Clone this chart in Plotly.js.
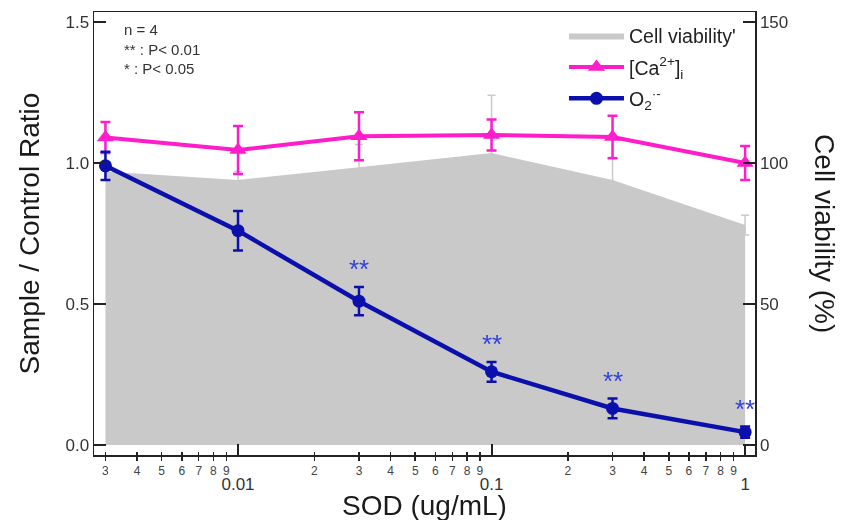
<!DOCTYPE html>
<html>
<head>
<meta charset="utf-8">
<script src="https://cdn.plot.ly/plotly-3.0.1.min.js"></script>
<style>html,body{margin:0;padding:0;background:#fff;}#chart{width:841px;height:520px;}</style>
</head>
<body>
<div id="chart"></div>
<script>
// SOD dose (ug/mL)
const doses = [0.003, 0.01, 0.03, 0.1, 0.3, 1];
// Cell viability (%), right axis
const viability = [97, 94, 98.5, 103.5, 94, 78];
const viabilityErr = [3, 3, 8, 20.5, 8, 3.5];
// [Ca2+]i sample/control ratio
const calcium = [1.09, 1.046, 1.095, 1.099, 1.092, 1.0];
const calciumErr = [0.055, 0.085, 0.085, 0.055, 0.075, 0.06];
// O2- sample/control ratio
const superoxide = [0.99, 0.76, 0.51, 0.26, 0.13, 0.046];
const superoxideErr = [0.05, 0.07, 0.05, 0.035, 0.035, 0.02];
const significance = ['', '', '**', '**', '**', '**'];

const majorTicks = [0.01, 0.1, 1];
const majorLabels = ['0.01', '0.1', '1'];
const minorTicks = [0.003,0.004,0.005,0.006,0.007,0.008,0.009,
                    0.02,0.03,0.04,0.05,0.06,0.07,0.08,0.09,
                    0.2,0.3,0.4,0.5,0.6,0.7,0.8,0.9];
const minorLabels = ['3','4','5','6','7','8','9','2','3','4','5','6','7','8','9','2','3','4','5','6','7','8','9'];
const ratioTicks = [0, 0.5, 1, 1.5];
const ratioLabels = ['0.0', '0.5', '1.0', '1.5'];
const viabilityTicks = [0, 50, 100, 150];

const FONT = 'Liberation Sans, Arial, sans-serif';
const PINK = '#ff1ccb';
const BLUE = '#0b10ad';
const GRAY = '#c9c9c9';
const AX = '#222';

const traces = [
  {
    x: doses, y: viability, xaxis: 'x', yaxis: 'y',
    type: 'scatter', mode: 'lines', name: "Cell viability'", legendgroup: 'a',
    line: {width: 0, color: GRAY}, fill: 'tozeroy', fillcolor: GRAY,
    error_y: {type: 'data', array: viabilityErr, visible: true, color: GRAY, thickness: 1.5, width: 4}
  },
  {
    x: doses, y: calcium, xaxis: 'x', yaxis: 'y2',
    type: 'scatter', mode: 'lines+markers', name: '[Ca<sup>2+</sup>]<sub>i</sub>', legendgroup: 'b',
    line: {width: 4, color: PINK},
    marker: {symbol: 'triangle-up', size: 15, color: PINK},
    error_y: {type: 'data', array: calciumErr, visible: true, color: PINK, thickness: 2.5, width: 5}
  },
  {
    x: doses, y: superoxide, xaxis: 'x', yaxis: 'y2',
    type: 'scatter', mode: 'lines+markers', name: 'O<sub>2</sub><sup>·-</sup>', legendgroup: 'c',
    line: {width: 4.5, color: BLUE},
    marker: {symbol: 'circle', size: 13, color: BLUE},
    error_y: {type: 'data', array: superoxideErr, visible: true, color: BLUE, thickness: 2.5, width: 5}
  },
  // carrier for the secondary (minor-label) x axis; draws nothing
  {
    x: doses, y: viability, xaxis: 'x2', yaxis: 'y',
    type: 'scatter', mode: 'markers', opacity: 0, showlegend: false, hoverinfo: 'skip',
    marker: {size: 1, color: 'rgba(0,0,0,0)'}
  }
];

const annotations = [];
doses.forEach((d, i) => {
  if (significance[i]) {
    annotations.push({
      x: Math.log10(d), y: superoxide[i] + superoxideErr[i], xref: 'x', yref: 'y2',
      text: significance[i], showarrow: false, yanchor: 'bottom', yshift: 1,
      font: {family: FONT, size: 26, color: '#3040dc'}
    });
  }
});
annotations.push({
  xref: 'paper', yref: 'paper', x: 0.042, y: 0.984, xanchor: 'left', yanchor: 'top', align: 'left',
  text: 'n = 4<br>** : P< 0.01<br>* : P< 0.05', showarrow: false,
  font: {family: FONT, size: 15, color: '#333'}
});
annotations.push({
  xref: 'paper', yref: 'paper', x: -0.097, y: 0.5, xanchor: 'center', yanchor: 'middle',
  text: 'Sample / Control Ratio', textangle: -90, showarrow: false,
  font: {family: FONT, size: 28, color: '#1a1a1a'}
});
annotations.push({
  xref: 'paper', yref: 'paper', x: 1.105, y: 0.5, xanchor: 'center', yanchor: 'middle',
  text: 'Cell viability (%)', textangle: 90, showarrow: false,
  font: {family: FONT, size: 28, color: '#1a1a1a'}
});
annotations.push({
  xref: 'paper', yref: 'paper', x: 0.5, y: -0.113, xanchor: 'center', yanchor: 'middle',
  text: 'SOD (ug/mL)', showarrow: false,
  font: {family: FONT, size: 28, color: '#1a1a1a'}
});

const xRange = [-2.568, 0.039];
const layout = {
  width: 841, height: 520,
  margin: {l: 94, r: 86, t: 12, b: 65},
  paper_bgcolor: '#fff', plot_bgcolor: '#fff',
  font: {family: FONT, color: '#333'},
  showlegend: true,
  legend: {x: 0.711, y: 0.99, xanchor: 'left', yanchor: 'top', bgcolor: 'rgba(0,0,0,0)',
           font: {family: FONT, size: 19.5, color: '#222'}, itemwidth: 55, tracegroupgap: 3},
  xaxis: {
    type: 'log', range: xRange, anchor: 'y',
    tickmode: 'array', tickvals: majorTicks, ticktext: majorLabels,
    ticks: 'inside', ticklen: 11, tickwidth: 2, tickcolor: AX,
    minor: {tickmode: 'array', tickvals: minorTicks, ticks: 'inside', ticklen: 3, tickwidth: 1.5, tickcolor: AX, showgrid: false},
    showline: true, linewidth: 1.5, linecolor: AX, mirror: true,
    showgrid: false, zeroline: false,
    tickfont: {family: FONT, size: 17, color: '#333'}, ticklabelstandoff: 13
  },
  xaxis2: {
    type: 'log', range: xRange, overlaying: 'x', anchor: 'y', side: 'bottom',
    tickmode: 'array', tickvals: minorTicks, ticktext: minorLabels,
    ticks: 'outside', ticklen: 5, tickwidth: 1.5, tickcolor: AX,
    showline: false, showgrid: false, zeroline: false,
    tickfont: {family: FONT, size: 12, color: '#444'}
  },
  yaxis: {
    range: [-3.5, 153.5], side: 'right', anchor: 'x',
    tickvals: viabilityTicks,
    ticks: 'inside', ticklen: 12, tickwidth: 1.5, tickcolor: AX,
    showline: true, linewidth: 1.5, linecolor: AX,
    showgrid: false, zeroline: false,
    tickfont: {family: FONT, size: 17, color: '#333'}
  },
  yaxis2: {
    range: [-0.035, 1.535], side: 'left', overlaying: 'y', anchor: 'x',
    tickvals: ratioTicks, ticktext: ratioLabels,
    ticks: 'inside', ticklen: 12, tickwidth: 1.5, tickcolor: AX,
    showline: true, linewidth: 1.5, linecolor: AX,
    showgrid: false, zeroline: false,
    tickfont: {family: FONT, size: 17, color: '#333'}
  },
  annotations: annotations
};

Plotly.newPlot('chart', traces, layout, {displayModeBar: false, staticPlot: true});
</script>
</body>
</html>
